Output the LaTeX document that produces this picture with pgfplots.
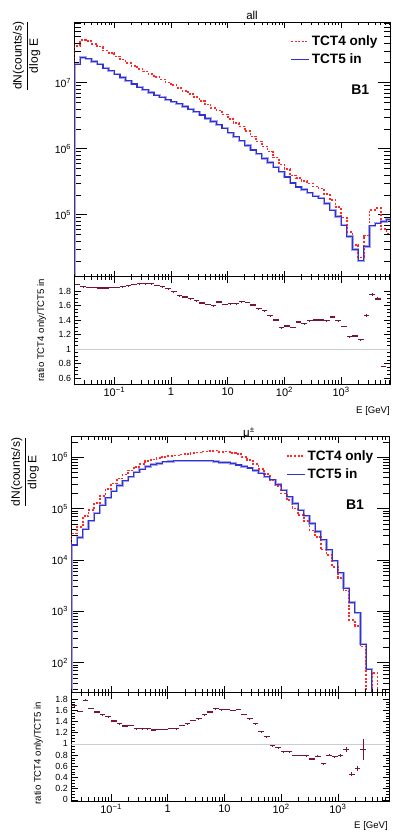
\documentclass[border=0pt]{standalone}
\usepackage{pgfplots}
\pgfplotsset{compat=1.18}
\usepackage{pgfplotstable}
\usetikzlibrary{plotmarks}
\usepackage{fontspec}
\setmainfont{Liberation Sans}
\definecolor{hblue}{RGB}{50,50,210}
\definecolor{hband}{RGB}{165,165,235}
\definecolor{hred}{RGB}{255,40,40}
\definecolor{rmar}{RGB}{120,20,60}
\pgfkeys{/pgf/number format/assume math mode=true}

\pgfplotstableread{
e b r
0.019953 1 1
0.019953 1.91e7 3.61e7
0.025119 2.40e7 4.46e7
0.031623 2.29e7 4.24e7
0.039811 2.09e7 3.87e7
0.050119 1.91e7 3.51e7
0.063096 1.66e7 3.05e7
0.079433 1.51e7 2.79e7
0.1 1.35e7 2.50e7
0.12589 1.20e7 2.23e7
0.15849 1.07e7 2.00e7
0.19953 9.55e6 1.80e7
0.25119 8.51e6 1.62e7
0.31623 7.76e6 1.47e7
0.39811 7.08e6 1.345e7
0.50119 6.46e6 1.214e7
0.63096 6.03e6 1.122e7
0.79433 5.50e6 1.007e7
1 5.13e6 9.18e6
1.2589 4.79e6 8.31e6
1.5849 4.37e6 7.50e6
1.9953 3.98e6 6.74e6
2.5119 3.63e6 6.05e6
3.1623 3.24e6 5.29e6
3.9811 2.88e6 4.66e6
5.0119 2.57e6 4.10e6
6.3096 2.29e6 3.77e6
7.9433 2.04e6 3.30e6
10 1.74e6 2.83e6
12.589 1.51e6 2.45e6
15.849 1.32e6 2.18e6
19.953 1.12e6 1.84e6
25.119 9.55e5 1.53e6
31.623 8.32e5 1.29e6
39.811 7.08e5 1.08e6
50.119 6.17e5 9.01e5
63.096 5.25e5 7.35e5
79.433 4.47e5 5.78e5
100 3.72e5 4.90e5
125.89 3.02e5 3.93e5
158.49 2.63e5 3.61e5
199.53 2.40e5 3.24e5
251.19 2.14e5 2.97e5
316.23 1.91e5 2.67e5
398.11 1.78e5 2.49e5
501.19 1.48e5 2.06e5
630.96 1.17e5 1.68e5
794.33 9.33e4 1.30e5
1000 6.92e4 9.07e4
1258.9 4.68e4 5.48e4
1584.9 2.95e4 3.48e4
1995.3 2.00e4 2.26e4
2511.9 3.31e4 4.83e4
3162.3 6.76e4 1.18e5
3981.1 7.41e4 1.25e5
5011.9 7.94e4 6.03e4
6309.6 8.51e4 5.20e4
7943.3 8.51e4 5.20e4
}\topH

\pgfplotstableread{
c r e
0.022387 1.89 0.003
0.028184 1.86 0.003
0.035481 1.85 0.003
0.044668 1.85 0.003
0.056234 1.84 0.003
0.070795 1.84 0.003
0.089125 1.85 0.003
0.11220 1.85 0.003
0.14125 1.86 0.003
0.17783 1.87 0.003
0.22387 1.89 0.003
0.28184 1.90 0.003
0.35481 1.90 0.003
0.44668 1.90 0.003
0.56234 1.88 0.003
0.70795 1.86 0.003
0.89125 1.83 0.003
1.1220 1.79 0.003
1.4125 1.735 0.003
1.7783 1.717 0.003
2.2387 1.694 0.003
2.8184 1.667 0.003
3.5481 1.634 0.003
4.4668 1.617 0.003
5.6234 1.597 0.003
7.0795 1.648 0.003
8.9125 1.617 0.003
11.220 1.625 0.003
14.125 1.625 0.003
17.783 1.653 0.003
22.387 1.644 0.003
28.184 1.607 0.003
35.481 1.556 0.003
44.668 1.528 0.003
56.234 1.46 0.003
70.795 1.40 0.003
89.125 1.294 0.003
112.20 1.317 0.003
141.25 1.30 0.003
177.83 1.372 0.003
223.87 1.35 0.003
281.84 1.39 0.008
354.81 1.40 0.008
446.68 1.40 0.008
562.34 1.39 0.008
707.95 1.44 0.008
891.25 1.39 0.008
1122.0 1.31 0.01
1412.5 1.17 0.012
1778.3 1.18 0.012
2238.7 1.13 0.012
2818.4 1.46 0.02
3548.1 1.75 0.02
4466.8 1.69 0.02
5623.4 0.76 0.01
}\topR

\pgfplotstableread{
e b r
0.019953 0.01 0.01
0.019953 1.95e4 3.28e4
0.025119 2.75e4 4.35e4
0.031623 3.98e4 7.08e4
0.039811 5.75e4 9.43e4
0.050119 8.13e4 1.28e5
0.063096 1.17e5 1.78e5
0.079433 1.62e5 2.41e5
0.1 2.19e5 3.09e5
0.12589 2.82e5 3.84e5
0.15849 3.47e5 4.58e5
0.19953 4.17e5 5.55e5
0.25119 5.13e5 6.52e5
0.31623 5.89e5 7.48e5
0.39811 6.61e5 8.39e5
0.50119 7.24e5 9.05e5
0.63096 7.59e5 9.56e5
0.79433 8.13e5 1.02e6
1 8.32e5 1.06e6
1.2589 8.51e5 1.08e6
1.5849 8.51e5 1.13e6
1.9953 8.51e5 1.16e6
2.5119 8.51e5 1.21e6
3.1623 8.51e5 1.23e6
3.9811 8.51e5 1.29e6
5.0119 8.51e5 1.34e6
6.3096 8.32e5 1.36e6
7.9433 7.94e5 1.28e6
10 7.94e5 1.29e6
12.589 7.59e5 1.21e6
15.849 7.08e5 1.15e6
19.953 6.61e5 1.01e6
25.119 6.17e5 8.95e5
31.623 5.50e5 7.48e5
39.811 4.90e5 5.98e5
50.119 4.17e5 4.71e5
63.096 3.63e5 3.52e5
79.433 2.95e5 2.74e5
100 2.29e5 1.97e5
125.89 1.70e5 1.46e5
158.49 1.26e5 1.01e5
199.53 9.33e4 7.46e4
251.19 7.24e4 5.72e4
316.23 5.13e4 3.74e4
398.11 3.55e4 2.77e4
501.19 2.45e4 1.59e4
630.96 1.58e4 1.26e4
794.33 9.55e3 7.35e3
1000 5.62e3 4.44e3
1258.9 2.82e3 2.54e3
1584.9 1.48e3 681
1995.3 933 522
2511.9 229 206
3162.3 74 0.01
3981.1 0.01 63
5011.9 0.01 0.01
6309.6 0.01 0.01
}\botH

\pgfplotstableread{
c r e
0.022387 1.68 0.02
0.028184 1.58 0.015
0.035481 1.78 0.015
0.044668 1.64 0.01
0.056234 1.57 0.005
0.070795 1.52 0.005
0.089125 1.49 0.005
0.11220 1.41 0.005
0.14125 1.36 0.005
0.17783 1.32 0.005
0.22387 1.33 0.005
0.28184 1.27 0.005
0.35481 1.27 0.005
0.44668 1.27 0.005
0.56234 1.25 0.005
0.70795 1.26 0.005
0.89125 1.26 0.005
1.1220 1.28 0.005
1.4125 1.27 0.005
1.7783 1.33 0.005
2.2387 1.36 0.005
2.8184 1.42 0.005
3.5481 1.45 0.005
4.4668 1.52 0.005
5.6234 1.57 0.005
7.0795 1.63 0.005
8.9125 1.61 0.005
11.220 1.62 0.005
14.125 1.60 0.005
17.783 1.62 0.005
22.387 1.53 0.005
28.184 1.45 0.005
35.481 1.36 0.005
44.668 1.22 0.005
56.234 1.13 0.005
70.795 0.97 0.005
89.125 0.93 0.005
112.20 0.86 0.005
141.25 0.86 0.01
177.83 0.80 0.01
223.87 0.80 0.01
281.84 0.79 0.012
354.81 0.73 0.012
446.68 0.78 0.015
562.34 0.65 0.015
707.95 0.80 0.02
891.25 0.77 0.02
1122.0 0.79 0.025
1412.5 0.90 0.05
1778.3 0.46 0.04
2238.7 0.56 0.04
2818.4 0.90 0.18
}\botR

\begin{document}
\begin{tikzpicture}[x=1pt,y=1pt]
\path[use as bounding box] (0,0) rectangle (392,832);

% ---------- top main ----------
\begin{axis}[scale only axis, xmode=log, ymode=log,
  at={(74.6pt,555.3pt)}, anchor=south west, width=315.4pt, height=254.7pt,
  xmin=0.019953, xmax=7278, ymin=1.15e4, ymax=8.3e7,
  axis line style={line width=0.9pt}, tick align=inside, tick pos=both,
  tick style={black, line width=0.6pt},
  xtick=\empty,
  ytick={1e5,1e6,1e7}, yticklabels={10\textsuperscript{5},10\textsuperscript{6},10\textsuperscript{7}},
  minor ytick={2e4,3e4,4e4,5e4,6e4,7e4,8e4,9e4,2e5,3e5,4e5,5e5,6e5,7e5,8e5,9e5,2e6,3e6,4e6,5e6,6e6,7e6,8e6,9e6,2e7,3e7,4e7,5e7,6e7,7e7,8e7},
  major tick length=12.5pt, minor tick length=6.5pt,
  yticklabel style={font=\fontsize{10.5}{12}\selectfont},
  legend image code/.code={\draw[#1] (0pt,0pt) -- (18pt,0pt);},
  legend cell align=left,
  legend style={at={(0.683,0.955)}, anchor=north west, draw=none, fill=none, inner sep=0pt,
    row sep=3pt, font=\bfseries\fontsize{13.6}{15}\selectfont}]
\addplot[hband, line width=2.4pt, const plot mark left, forget plot] table[x=e,y=b] {\topH};
\addplot[hred, line width=1.6pt, dash pattern=on 2pt off 1.6pt, const plot mark left] table[x=e,y=r] {\topH};
\addlegendentry{TCT4 only}
\addplot[hblue, line width=1.1pt, const plot mark left] table[x=e,y=b] {\topH};
\addlegendentry{TCT5 in}
\end{axis}
\begin{axis}[scale only axis, xmode=log, ymode=log,
  at={(74.6pt,555.3pt)}, anchor=south west, width=315.4pt, height=254.7pt,
  xmin=0.019953, xmax=7278, ymin=1.15e4, ymax=8.3e7,
  axis line style={draw=none}, tick align=inside, tick pos=both,
  tick style={black, line width=0.6pt},
  ytick=\empty,
  xtick={0.1,1,10,100,1000}, xticklabels=\empty,
  minor xtick={0.02,0.03,0.04,0.05,0.06,0.07,0.08,0.09,0.2,0.3,0.4,0.5,0.6,0.7,0.8,0.9,2,3,4,5,6,7,8,9,20,30,40,50,60,70,80,90,200,300,400,500,600,700,800,900,2000,3000,4000,5000,6000,7000},
  major tick length=6pt, minor tick length=3pt]
\end{axis}

% ---------- top ratio ----------
\begin{axis}[scale only axis, xmode=log,
  at={(74.6pt,448pt)}, anchor=south west, width=315.4pt, height=107.3pt,
  xmin=0.019953, xmax=7278, ymin=0.517, ymax=1.997,
  axis line style={line width=0.9pt}, tick align=inside, tick pos=both,
  tick style={black, line width=0.6pt},
  xtick={0.1,1,10,100,1000},
  xticklabels={10\textsuperscript{−1},1,10,10\textsuperscript{2},10\textsuperscript{3}},
  xticklabel style={font=\fontsize{11}{13}\selectfont},
  minor xtick={0.02,0.03,0.04,0.05,0.06,0.07,0.08,0.09,0.2,0.3,0.4,0.5,0.6,0.7,0.8,0.9,2,3,4,5,6,7,8,9,20,30,40,50,60,70,80,90,200,300,400,500,600,700,800,900,2000,3000,4000,5000,6000,7000},
  ytick={0.6,0.8,1,1.2,1.4,1.6,1.8}, minor y tick num=3,
  major tick length=6.5pt, minor tick length=3.5pt,
  yticklabel style={font=\fontsize{8.9}{10}\selectfont}]
\addplot[black!20, line width=0.8pt] coordinates {(0.019953,1) (7278,1)};
\addplot[rmar, only marks, mark=-, mark size=2.83pt, mark options={line width=1.2pt},
  error bars/y dir=both, error bars/y explicit, error bars/error mark=none,
  error bars/error bar style={rmar, line width=1pt}]
  table[x=c, y=r, y error=e] {\topR};
\end{axis}

% ---------- bottom main ----------
\begin{axis}[scale only axis, xmode=log, ymode=log,
  at={(71.4pt,139.7pt)}, anchor=south west, width=317.6pt, height=255.6pt,
  xmin=0.019953, xmax=8000, ymin=26.3, ymax=2.52e6,
  axis line style={line width=0.9pt}, tick align=inside, tick pos=both,
  tick style={black, line width=0.6pt},
  xtick=\empty,
  ytick={1e2,1e3,1e4,1e5,1e6}, yticklabels={10\textsuperscript{2},10\textsuperscript{3},10\textsuperscript{4},10\textsuperscript{5},10\textsuperscript{6}},
  minor ytick={30,40,50,60,70,80,90,200,300,400,500,600,700,800,900,2000,3000,4000,5000,6000,7000,8000,9000,2e4,3e4,4e4,5e4,6e4,7e4,8e4,9e4,2e5,3e5,4e5,5e5,6e5,7e5,8e5,9e5,2e6},
  major tick length=12.5pt, minor tick length=6.5pt,
  yticklabel style={font=\fontsize{10.5}{12}\selectfont},
  legend image code/.code={\draw[#1] (0pt,0pt) -- (18pt,0pt);},
  legend cell align=left,
  legend style={at={(0.675,0.955)}, anchor=north west, draw=none, fill=none, inner sep=0pt,
    row sep=3pt, font=\bfseries\fontsize{13.6}{15}\selectfont}]
\addplot[hband, line width=2.4pt, const plot mark left, forget plot] table[x=e,y=b] {\botH};
\addplot[hred, line width=1.6pt, dash pattern=on 2pt off 1.6pt, const plot mark left] table[x=e,y=r] {\botH};
\addlegendentry{TCT4 only}
\addplot[hblue, line width=1.1pt, const plot mark left] table[x=e,y=b] {\botH};
\addlegendentry{TCT5 in}
\end{axis}
\begin{axis}[scale only axis, xmode=log, ymode=log,
  at={(71.4pt,139.7pt)}, anchor=south west, width=317.6pt, height=255.6pt,
  xmin=0.019953, xmax=8000, ymin=26.3, ymax=2.52e6,
  axis line style={draw=none}, tick align=inside, tick pos=both,
  tick style={black, line width=0.6pt},
  ytick=\empty,
  xtick={0.1,1,10,100,1000}, xticklabels=\empty,
  minor xtick={0.02,0.03,0.04,0.05,0.06,0.07,0.08,0.09,0.2,0.3,0.4,0.5,0.6,0.7,0.8,0.9,2,3,4,5,6,7,8,9,20,30,40,50,60,70,80,90,200,300,400,500,600,700,800,900,2000,3000,4000,5000,6000,7000},
  major tick length=6pt, minor tick length=3pt]
\end{axis}

% ---------- bottom ratio ----------
\begin{axis}[scale only axis, xmode=log,
  at={(71.4pt,31pt)}, anchor=south west, width=317.6pt, height=108.7pt,
  xmin=0.019953, xmax=8000, ymin=-0.02, ymax=1.923,
  axis line style={line width=0.9pt}, tick align=inside, tick pos=both,
  tick style={black, line width=0.6pt},
  xtick={0.1,1,10,100,1000},
  xticklabels={10\textsuperscript{−1},1,10,10\textsuperscript{2},10\textsuperscript{3}},
  xticklabel style={font=\fontsize{11}{13}\selectfont},
  minor xtick={0.02,0.03,0.04,0.05,0.06,0.07,0.08,0.09,0.2,0.3,0.4,0.5,0.6,0.7,0.8,0.9,2,3,4,5,6,7,8,9,20,30,40,50,60,70,80,90,200,300,400,500,600,700,800,900,2000,3000,4000,5000,6000,7000},
  ytick={0,0.2,0.4,0.6,0.8,1,1.2,1.4,1.6,1.8}, minor y tick num=3,
  major tick length=6.5pt, minor tick length=3.5pt,
  yticklabel style={font=\fontsize{8.9}{10}\selectfont}]
\addplot[black!20, line width=0.8pt] coordinates {(0.019953,1) (8000,1)};
\addplot[rmar, only marks, mark=-, mark size=2.83pt, mark options={line width=1.2pt},
  error bars/y dir=both, error bars/y explicit, error bars/error mark=none,
  error bars/error bar style={rmar, line width=1pt}]
  table[x=c, y=r, y error=e] {\botR};
\end{axis}

% ---------- texts ----------
\node[font=\fontsize{11.5}{13}\selectfont] at (252,816.3) {all};
\node[font=\fontsize{11.5}{13}\selectfont] at (249,398.7) {μ\textsuperscript{±}};
\node[font=\bfseries\fontsize{14}{16}\selectfont] at (360.3,742.7) {B1};
\node[font=\bfseries\fontsize{14}{16}\selectfont] at (355,327) {B1};
\node[rotate=90, font=\fontsize{12}{14}\selectfont] at (26.7,776) {$\displaystyle\frac{\mbox{dN(counts/s)}}{\mbox{dlog E}}$};
\node[rotate=90, font=\fontsize{12}{14}\selectfont] at (25,360) {$\displaystyle\frac{\mbox{dN(counts/s)}}{\mbox{dlog E}}$};
\node[rotate=90, font=\fontsize{9.6}{11}\selectfont] at (41.7,502) {ratio TCT4 only/TCT5 in};
\node[rotate=90, font=\fontsize{9.6}{11}\selectfont] at (38.3,79) {ratio TCT4 only/TCT5 in};
\node[anchor=east, font=\fontsize{9.6}{11}\selectfont, inner sep=0pt] at (390,421.3) {E [GeV]};
\node[anchor=east, font=\fontsize{9.6}{11}\selectfont, inner sep=0pt] at (388,6.3) {E [GeV]};
\end{tikzpicture}
\end{document}
